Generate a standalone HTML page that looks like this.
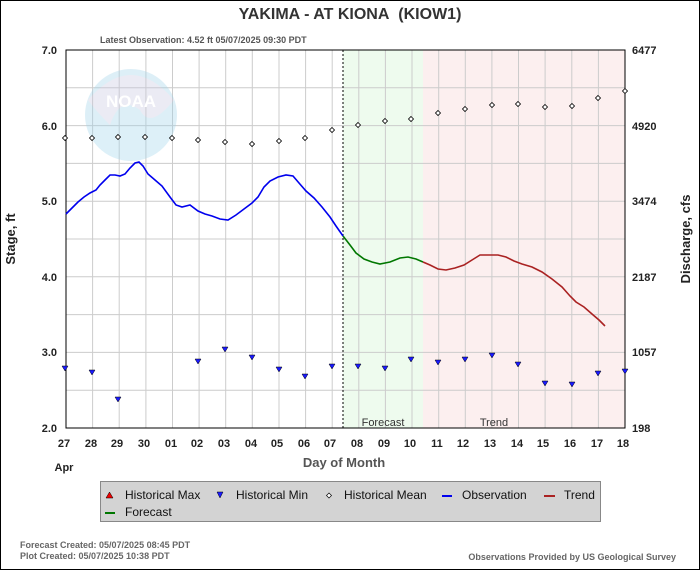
<!DOCTYPE html>
<html><head><meta charset="utf-8"><style>
body{margin:0;background:#fff}
svg{display:block;font-family:"Liberation Sans",sans-serif}
</style></head><body>
<svg width="700" height="570" viewBox="0 0 700 570" xmlns="http://www.w3.org/2000/svg">
<rect x="0.5" y="0.5" width="699" height="569" fill="#fff" stroke="#000"/>
<text x="350" y="19" text-anchor="middle" font-size="16" font-weight="bold" fill="#333">YAKIMA - AT KIONA&#160; (KIOW1)</text>
<text x="100" y="43" font-size="9" font-weight="bold" fill="#555">Latest Observation: 4.52 ft 05/07/2025 09:30 PDT</text>
<rect x="343" y="50" width="80" height="378" fill="#eefbee"/>
<rect x="423" y="50" width="202" height="378" fill="#fcefef"/>
<g stroke="#ccc" stroke-width="1">
<line x1="66" y1="87.8" x2="625" y2="87.8"/><line x1="66" y1="125.6" x2="625" y2="125.6"/><line x1="66" y1="163.4" x2="625" y2="163.4"/><line x1="66" y1="201.2" x2="625" y2="201.2"/><line x1="66" y1="239" x2="625" y2="239"/><line x1="66" y1="276.8" x2="625" y2="276.8"/><line x1="66" y1="314.6" x2="625" y2="314.6"/><line x1="66" y1="352.4" x2="625" y2="352.4"/><line x1="66" y1="390.2" x2="625" y2="390.2"/>
<line x1="92.6" y1="50" x2="92.6" y2="428"/><line x1="119.2" y1="50" x2="119.2" y2="428"/><line x1="145.9" y1="50" x2="145.9" y2="428"/><line x1="172.5" y1="50" x2="172.5" y2="428"/><line x1="199.1" y1="50" x2="199.1" y2="428"/><line x1="225.7" y1="50" x2="225.7" y2="428"/><line x1="252.3" y1="50" x2="252.3" y2="428"/><line x1="279" y1="50" x2="279" y2="428"/><line x1="305.6" y1="50" x2="305.6" y2="428"/><line x1="332.2" y1="50" x2="332.2" y2="428"/><line x1="358.8" y1="50" x2="358.8" y2="428"/><line x1="385.4" y1="50" x2="385.4" y2="428"/><line x1="412" y1="50" x2="412" y2="428"/><line x1="438.7" y1="50" x2="438.7" y2="428"/><line x1="465.3" y1="50" x2="465.3" y2="428"/><line x1="491.9" y1="50" x2="491.9" y2="428"/><line x1="518.5" y1="50" x2="518.5" y2="428"/><line x1="545.1" y1="50" x2="545.1" y2="428"/><line x1="571.8" y1="50" x2="571.8" y2="428"/><line x1="598.4" y1="50" x2="598.4" y2="428"/>
</g>
<g opacity="0.35">
<circle cx="131" cy="115" r="46" fill="#9fd3ea"/>
<path d="M88,100 Q131,50 174,100 Q150,130 140,110 Q120,95 110,125 Q95,110 88,100Z" fill="#c8c8e0"/>
</g>
<text x="131" y="107" text-anchor="middle" font-size="17" font-weight="bold" fill="#fff">NOAA</text>
<line x1="343" y1="50" x2="343" y2="428" stroke="#000" stroke-dasharray="2,2"/>
<text x="383" y="426" text-anchor="middle" font-size="11" fill="#333">Forecast</text>
<text x="494" y="426" text-anchor="middle" font-size="11" fill="#333">Trend</text>
<rect x="66" y="50" width="559" height="378" fill="none" stroke="#000"/>
<g font-size="11" font-weight="bold" fill="#222">
<text x="57" y="54" text-anchor="end">7.0</text><text x="57" y="130" text-anchor="end">6.0</text><text x="57" y="205" text-anchor="end">5.0</text><text x="57" y="281" text-anchor="end">4.0</text><text x="57" y="356" text-anchor="end">3.0</text><text x="57" y="432" text-anchor="end">2.0</text>
<text x="632" y="54">6477</text><text x="632" y="130">4920</text><text x="632" y="205">3474</text><text x="632" y="281">2187</text><text x="632" y="356">1057</text><text x="632" y="432">198</text>
</g>
<g font-size="11" font-weight="bold" fill="#222" text-anchor="middle">
<text x="64" y="447">27</text><text x="91" y="447">28</text><text x="117" y="447">29</text><text x="144" y="447">30</text><text x="171" y="447">01</text><text x="197" y="447">02</text><text x="224" y="447">03</text><text x="251" y="447">04</text><text x="277" y="447">05</text><text x="304" y="447">06</text><text x="330" y="447">07</text><text x="357" y="447">08</text><text x="384" y="447">09</text><text x="410" y="447">10</text><text x="437" y="447">11</text><text x="463" y="447">12</text><text x="490" y="447">13</text><text x="517" y="447">14</text><text x="543" y="447">15</text><text x="570" y="447">16</text><text x="597" y="447">17</text><text x="623" y="447">18</text>
<text x="64" y="471">Apr</text>
</g>
<text x="344" y="467" text-anchor="middle" font-size="13" font-weight="bold" fill="#555">Day of Month</text>
<text transform="translate(15,239) rotate(-90)" text-anchor="middle" font-size="13" font-weight="bold" fill="#222">Stage, ft</text>
<text transform="translate(690,239) rotate(-90)" text-anchor="middle" font-size="13" font-weight="bold" fill="#222">Discharge, cfs</text>
<g fill="#fff" stroke="#000" stroke-width="0.8">
<path d="M0,-2.5L2.5,0L0,2.5L-2.5,0Z" transform="translate(65,138)"/>
<path d="M0,-2.5L2.5,0L0,2.5L-2.5,0Z" transform="translate(92,138)"/><path d="M0,-2.5L2.5,0L0,2.5L-2.5,0Z" transform="translate(118,137)"/><path d="M0,-2.5L2.5,0L0,2.5L-2.5,0Z" transform="translate(145,137)"/><path d="M0,-2.5L2.5,0L0,2.5L-2.5,0Z" transform="translate(172,138)"/><path d="M0,-2.5L2.5,0L0,2.5L-2.5,0Z" transform="translate(198,140)"/><path d="M0,-2.5L2.5,0L0,2.5L-2.5,0Z" transform="translate(225,142)"/><path d="M0,-2.5L2.5,0L0,2.5L-2.5,0Z" transform="translate(252,144)"/><path d="M0,-2.5L2.5,0L0,2.5L-2.5,0Z" transform="translate(279,141)"/><path d="M0,-2.5L2.5,0L0,2.5L-2.5,0Z" transform="translate(305,138)"/><path d="M0,-2.5L2.5,0L0,2.5L-2.5,0Z" transform="translate(332,130)"/><path d="M0,-2.5L2.5,0L0,2.5L-2.5,0Z" transform="translate(358,125)"/><path d="M0,-2.5L2.5,0L0,2.5L-2.5,0Z" transform="translate(385,121)"/><path d="M0,-2.5L2.5,0L0,2.5L-2.5,0Z" transform="translate(411,119)"/><path d="M0,-2.5L2.5,0L0,2.5L-2.5,0Z" transform="translate(438,113)"/><path d="M0,-2.5L2.5,0L0,2.5L-2.5,0Z" transform="translate(465,109)"/><path d="M0,-2.5L2.5,0L0,2.5L-2.5,0Z" transform="translate(492,105)"/><path d="M0,-2.5L2.5,0L0,2.5L-2.5,0Z" transform="translate(518,104)"/><path d="M0,-2.5L2.5,0L0,2.5L-2.5,0Z" transform="translate(545,107)"/><path d="M0,-2.5L2.5,0L0,2.5L-2.5,0Z" transform="translate(572,106)"/><path d="M0,-2.5L2.5,0L0,2.5L-2.5,0Z" transform="translate(598,98)"/><path d="M0,-2.5L2.5,0L0,2.5L-2.5,0Z" transform="translate(625,91)"/>
</g>
<g fill="#1a1aff" stroke="#000" stroke-width="0.5">
<path d="M-3,-2L3,-2L0,3Z" transform="translate(65,368)"/><path d="M-3,-2L3,-2L0,3Z" transform="translate(92,372)"/><path d="M-3,-2L3,-2L0,3Z" transform="translate(118,399)"/><path d="M-3,-2L3,-2L0,3Z" transform="translate(198,361)"/><path d="M-3,-2L3,-2L0,3Z" transform="translate(225,349)"/><path d="M-3,-2L3,-2L0,3Z" transform="translate(252,357)"/><path d="M-3,-2L3,-2L0,3Z" transform="translate(279,369)"/><path d="M-3,-2L3,-2L0,3Z" transform="translate(305,376)"/><path d="M-3,-2L3,-2L0,3Z" transform="translate(332,366)"/><path d="M-3,-2L3,-2L0,3Z" transform="translate(358,366)"/><path d="M-3,-2L3,-2L0,3Z" transform="translate(385,368)"/><path d="M-3,-2L3,-2L0,3Z" transform="translate(411,359)"/><path d="M-3,-2L3,-2L0,3Z" transform="translate(438,362)"/><path d="M-3,-2L3,-2L0,3Z" transform="translate(465,359)"/><path d="M-3,-2L3,-2L0,3Z" transform="translate(492,355)"/><path d="M-3,-2L3,-2L0,3Z" transform="translate(518,364)"/><path d="M-3,-2L3,-2L0,3Z" transform="translate(545,383)"/><path d="M-3,-2L3,-2L0,3Z" transform="translate(572,384)"/><path d="M-3,-2L3,-2L0,3Z" transform="translate(598,373)"/><path d="M-3,-2L3,-2L0,3Z" transform="translate(625,371)"/>
</g>
<polyline fill="none" stroke="#0000ee" stroke-width="1.6" points="66,214 72,208 78,202 84,197 90,193 96,190 100,185 105,180 110,175 115,175 120,176 125,174 130,168 135,163 139,162 143,166 148,174 155,180 162,186 170,197 176,205 182,207 190,205 198,211 205,214 212,216 220,219 228,220 236,215 244,209 252,203 258,197 264,187 270,181 278,177 286,175 293,176 299,183 306,191 314,198 322,207 330,217 336,226 343,236"/>
<polyline fill="none" stroke="#007700" stroke-width="1.6" points="343,236 350,245 356,253 364,259 372,262 380,264 390,262 400,258 408,257 416,259 423,262"/>
<polyline fill="none" stroke="#aa2222" stroke-width="1.6" points="423,262 430,265 438,269 446,270 455,268 464,265 472,260 480,255 488,255 498,255 506,257 514,261 522,264 532,267 542,272 552,279 562,287 570,296 576,302 584,307 592,314 599,320 605,326"/>
<rect x="100.5" y="481.5" width="500" height="40" fill="#d3d3d3" stroke="#888"/>
<g font-size="12" fill="#111">
<path d="M106,498L109.5,492L113,498Z" fill="#e00" stroke="#000" stroke-width="0.5"/><text x="125" y="499">Historical Max</text>
<path d="M217,492L223,492L220,498Z" fill="#1a1aff" stroke="#000" stroke-width="0.5"/><text x="236" y="499">Historical Min</text>
<path d="M329,493L331.5,495.5L329,498L326.5,495.5Z" fill="#fff" stroke="#000" stroke-width="0.7"/><text x="344" y="499">Historical Mean</text>
<line x1="442" y1="496" x2="452" y2="496" stroke="#0000ee" stroke-width="2"/><text x="462" y="499">Observation</text>
<line x1="544" y1="496" x2="555" y2="496" stroke="#aa2222" stroke-width="2"/><text x="564" y="499">Trend</text>
<line x1="105" y1="513" x2="115" y2="513" stroke="#007700" stroke-width="2"/><text x="125" y="516">Forecast</text>
</g>
<g font-size="9" font-weight="bold" fill="#666">
<text x="20" y="548">Forecast Created: 05/07/2025 08:45 PDT</text>
<text x="20" y="559">Plot Created: 05/07/2025 10:38 PDT</text>
<text x="676" y="560" text-anchor="end">Observations Provided by US Geological Survey</text>
</g>
</svg>
</body></html>
